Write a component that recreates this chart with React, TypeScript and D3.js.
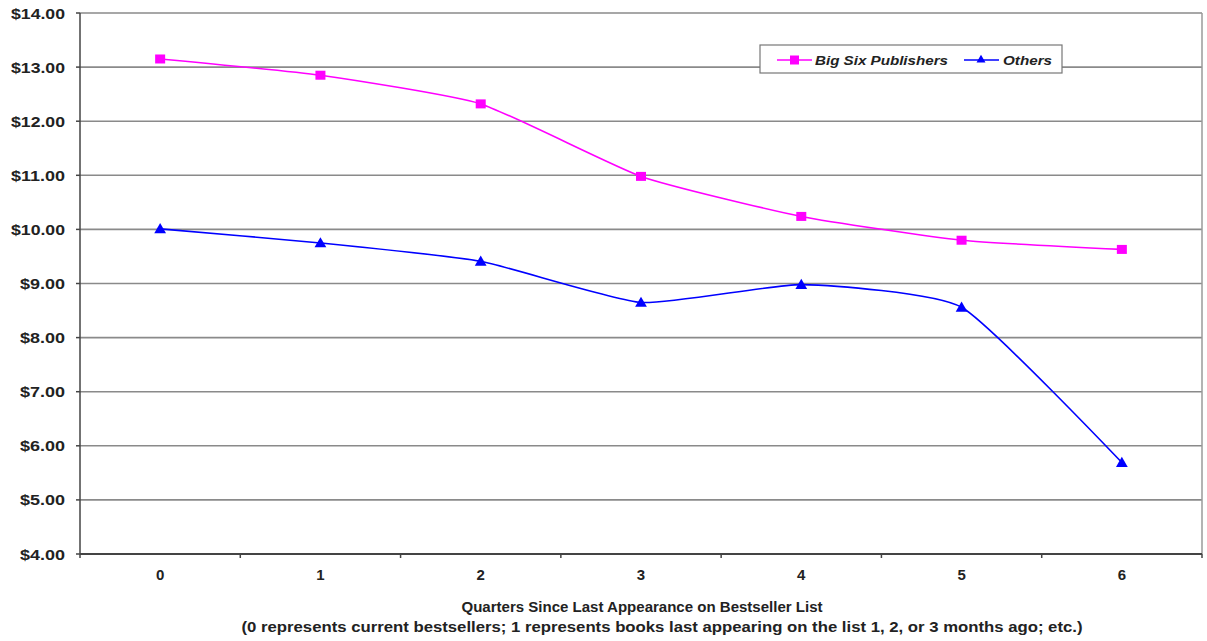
import React from "react";
import * as d3 from "d3";

const categories = ["0", "1", "2", "3", "4", "5", "6"];
const bigSix = [13.15, 12.85, 12.32, 10.98, 10.24, 9.8, 9.63];
const others = [10.01, 9.75, 9.41, 8.65, 8.98, 8.56, 5.69];
const yTicks = [4, 5, 6, 7, 8, 9, 10, 11, 12, 13, 14];
const seriesNames = ["Big Six Publishers", "Others"];
const axisTitle1 = "Quarters Since Last Appearance on Bestseller List";
const axisTitle2 =
  "(0 represents current bestsellers; 1 represents books last appearing on the list 1, 2, or 3 months ago; etc.)";

const W = 1207;
const H = 641;
const m = { left: 80, right: 5, top: 13, bottom: 87 };

export default function App() {
  const x = d3
    .scaleBand<string>()
    .domain(categories)
    .range([m.left, W - m.right]);
  const y = d3.scaleLinear().domain([4, 14]).range([H - m.bottom, m.top]);
  const cx = (c: string) => (x(c) as number) + x.bandwidth() / 2;

  const line = d3
    .line<number>()
    .x((_, i) => cx(categories[i]))
    .y((d) => y(d))
    .curve(d3.curveCardinal.tension(0.5));

  const font = "Arial, 'Liberation Sans', sans-serif";
  const tri = d3.symbol(d3.symbolTriangle, 60)();

  const boundaries = categories.map((c) => x(c) as number).concat([W - m.right]);

  return (
    <svg width={W} height={H} style={{ position: "absolute", left: 0, top: 0, background: "#fff" }}>
      {/* gridlines */}
      {yTicks.map((t) => (
        <line key={t} x1={m.left} x2={W - m.right} y1={y(t)} y2={y(t)} stroke="#8a8a8a" strokeWidth={1.6} />
      ))}
      {/* right border */}
      <line x1={W - m.right} x2={W - m.right} y1={m.top} y2={H - m.bottom} stroke="#9a9a9a" strokeWidth={1.5} />
      {/* axes */}
      <line x1={m.left} x2={m.left} y1={m.top} y2={H - m.bottom} stroke="#444" strokeWidth={1.5} />
      <line x1={m.left} x2={W - m.right} y1={H - m.bottom} y2={H - m.bottom} stroke="#444" strokeWidth={2} />
      {yTicks.map((t) => (
        <g key={"yt" + t}>
          <line x1={m.left - 4} x2={m.left} y1={y(t)} y2={y(t)} stroke="#444" strokeWidth={1.5} />
          <text
            x={65}
            y={y(t)}
            dy="0.36em"
            textAnchor="end"
            fontFamily={font}
            fontWeight="bold"
            fontSize={15.5}
            fill="#222"
            textLength={t >= 10 ? 54 : 45}
            lengthAdjust="spacingAndGlyphs"
          >
            {"$" + t.toFixed(2)}
          </text>
        </g>
      ))}
      {boundaries.map((b, i) => (
        <line key={"xt" + i} x1={b} x2={b} y1={H - m.bottom} y2={H - m.bottom + 4} stroke="#444" strokeWidth={1.5} />
      ))}
      {categories.map((c) => (
        <text
          key={"xl" + c}
          x={cx(c)}
          y={580}
          textAnchor="middle"
          fontFamily={font}
          fontWeight="bold"
          fontSize={15}
          fill="#222"
        >
          {c}
        </text>
      ))}
      {/* series */}
      <path d={line(bigSix) || ""} fill="none" stroke="#ff00ff" strokeWidth={1.6} />
      <path d={line(others) || ""} fill="none" stroke="#0000ff" strokeWidth={1.6} />
      {bigSix.map((v, i) => (
        <rect key={"b" + i} x={cx(categories[i]) - 5} y={y(v) - 4.5} width={10} height={9} fill="#ff00ff" />
      ))}
      {others.map((v, i) => (
        <path key={"o" + i} d={tri || ""} transform={`translate(${cx(categories[i])},${y(v) + 1})`} fill="#0000ff" />
      ))}
      {/* legend */}
      <rect x={760} y={45} width={302} height={28} fill="#fff" stroke="#777" strokeWidth={1.2} />
      <line x1={777} x2={812} y1={60} y2={60} stroke="#ff00ff" strokeWidth={1.6} />
      <rect x={790} y={55.5} width={9} height={9} fill="#ff00ff" />
      <text
        x={815}
        y={60}
        dy="0.36em"
        fontFamily={font}
        fontStyle="italic"
        fontWeight="bold"
        fontSize={13.5}
        fill="#222"
        textLength={133}
        lengthAdjust="spacingAndGlyphs"
      >
        {seriesNames[0]}
      </text>
      <line x1={964} x2={999} y1={60} y2={60} stroke="#0000ff" strokeWidth={1.6} />
      <path d={d3.symbol(d3.symbolTriangle, 35)() || ""} transform="translate(981,60)" fill="#0000ff" />
      <text
        x={1003}
        y={60}
        dy="0.36em"
        fontFamily={font}
        fontStyle="italic"
        fontWeight="bold"
        fontSize={13.5}
        fill="#222"
        textLength={49}
        lengthAdjust="spacingAndGlyphs"
      >
        {seriesNames[1]}
      </text>
      {/* axis titles */}
      <text
        x={642}
        y={612}
        textAnchor="middle"
        fontFamily={font}
        fontWeight="bold"
        fontSize={15}
        fill="#222"
        textLength={361}
        lengthAdjust="spacingAndGlyphs"
      >
        {axisTitle1}
      </text>
      <text
        x={662}
        y={632}
        textAnchor="middle"
        fontFamily={font}
        fontWeight="bold"
        fontSize={15}
        fill="#222"
        textLength={841}
        lengthAdjust="spacingAndGlyphs"
      >
        {axisTitle2}
      </text>
    </svg>
  );
}
